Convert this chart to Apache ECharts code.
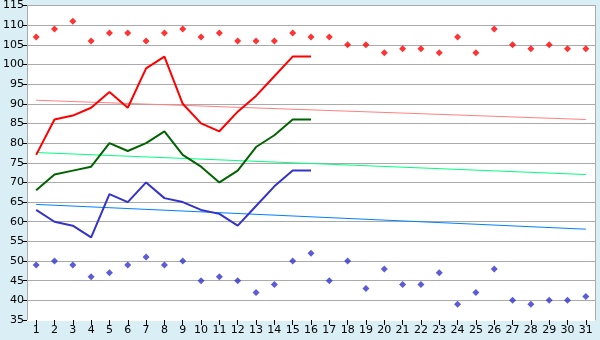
<!DOCTYPE html>
<html><head><meta charset="utf-8">
<script src="https://cdn.jsdelivr.net/npm/echarts@6/dist/echarts.min.js"></script>
<style>html,body{margin:0;padding:0;background:#d9eef5}#c{width:600px;height:340px}</style>
</head><body><div id="c"></div>
<script>
var days = [];
for (var i = 1; i <= 31; i++) days.push(String(i));
var redLine   = [77, 86, 87, 89, 93, 89, 99, 102, 90, 85, 83, 88, 92, 97, 102, 102];
var greenLine = [68, 72, 73, 74, 80, 78, 80, 83, 77, 74, 70, 73, 79, 82, 86, 86];
var blueLine  = [63, 60, 59, 56, 67, 65, 70, 66, 65, 63, 62, 59, 64, 69, 73, 73];
var redDots   = [107,109,111,106,108,108,106,108,109,107,108,106,106,106,108,107,107,105,105,103,104,104,103,107,103,109,105,104,105,104,104];
var blueDots  = [49,50,49,46,47,49,51,49,50,45,46,45,42,44,50,52,45,50,43,48,44,44,47,39,42,48,40,39,40,40,41];
var redTrendEnds   = [90.9, 86.0];
var greenTrendEnds = [77.6, 72.0];
var blueTrendEnds  = [64.4, 58.1];

function trend(ends){
  var d = days.map(function(){return null;});
  d[0] = ends[0]; d[days.length-1] = ends[1];
  return d;
}
var chart = echarts.init(document.getElementById('c'));
var font = 'DejaVu Sans';
chart.setOption({
  backgroundColor: '#d9eef5',
  animation: false,
  grid: {left: 27, right: 5, top: 5, bottom: 20, show: true, backgroundColor: '#ffffff', borderWidth: 0},
  xAxis: {
    type: 'category', data: days, boundaryGap: true,
    axisLine: {show: true, lineStyle: {color: '#ffffff'}},
    axisTick: {show: true, alignWithLabel: true, length: 5, lineStyle: {color: '#000'}},
    axisLabel: {color: '#000', fontFamily: font, fontSize: 11, margin: 5}
  },
  yAxis: [{
    type: 'value', min: 35, max: 115, interval: 5,
    axisLine: {show: true, lineStyle: {color: '#aaaaaa'}},
    axisTick: {show: true, length: 4, lineStyle: {color: '#000'}},
    axisLabel: {color: '#000', fontFamily: font, fontSize: 11, margin: 3},
    splitLine: {lineStyle: {color: '#aaaaaa', width: 1}}
  }, {
    type: 'value', min: 35, max: 115, interval: 5, position: 'right',
    axisLine: {show: true, lineStyle: {color: '#aaaaaa'}},
    axisTick: {show: false}, axisLabel: {show: false}, splitLine: {show: false}
  }],
  series: [
    {type: 'line', data: trend(redTrendEnds), connectNulls: true, showSymbol: false, lineStyle: {color: '#ff8080', width: 1}, z: 1},
    {type: 'line', data: trend(greenTrendEnds), connectNulls: true, showSymbol: false, lineStyle: {color: '#00ff80', width: 1}, z: 1},
    {type: 'line', data: trend(blueTrendEnds), connectNulls: true, showSymbol: false, lineStyle: {color: '#0080ff', width: 1}, z: 1},
    {type: 'line', data: redLine, showSymbol: false, lineStyle: {color: '#ff0000', width: 2}, z: 2},
    {type: 'line', data: greenLine, showSymbol: false, lineStyle: {color: '#006400', width: 2}, z: 2},
    {type: 'line', data: blueLine, showSymbol: false, lineStyle: {color: '#3333cc', width: 2}, z: 2},
    {type: 'scatter', data: redDots, symbol: 'diamond', symbolSize: 7, itemStyle: {color: '#ff0000'}, z: 3},
    {type: 'scatter', data: blueDots, symbol: 'diamond', symbolSize: 7, itemStyle: {color: '#3333cc'}, z: 3}
  ]
});
</script></body></html>
